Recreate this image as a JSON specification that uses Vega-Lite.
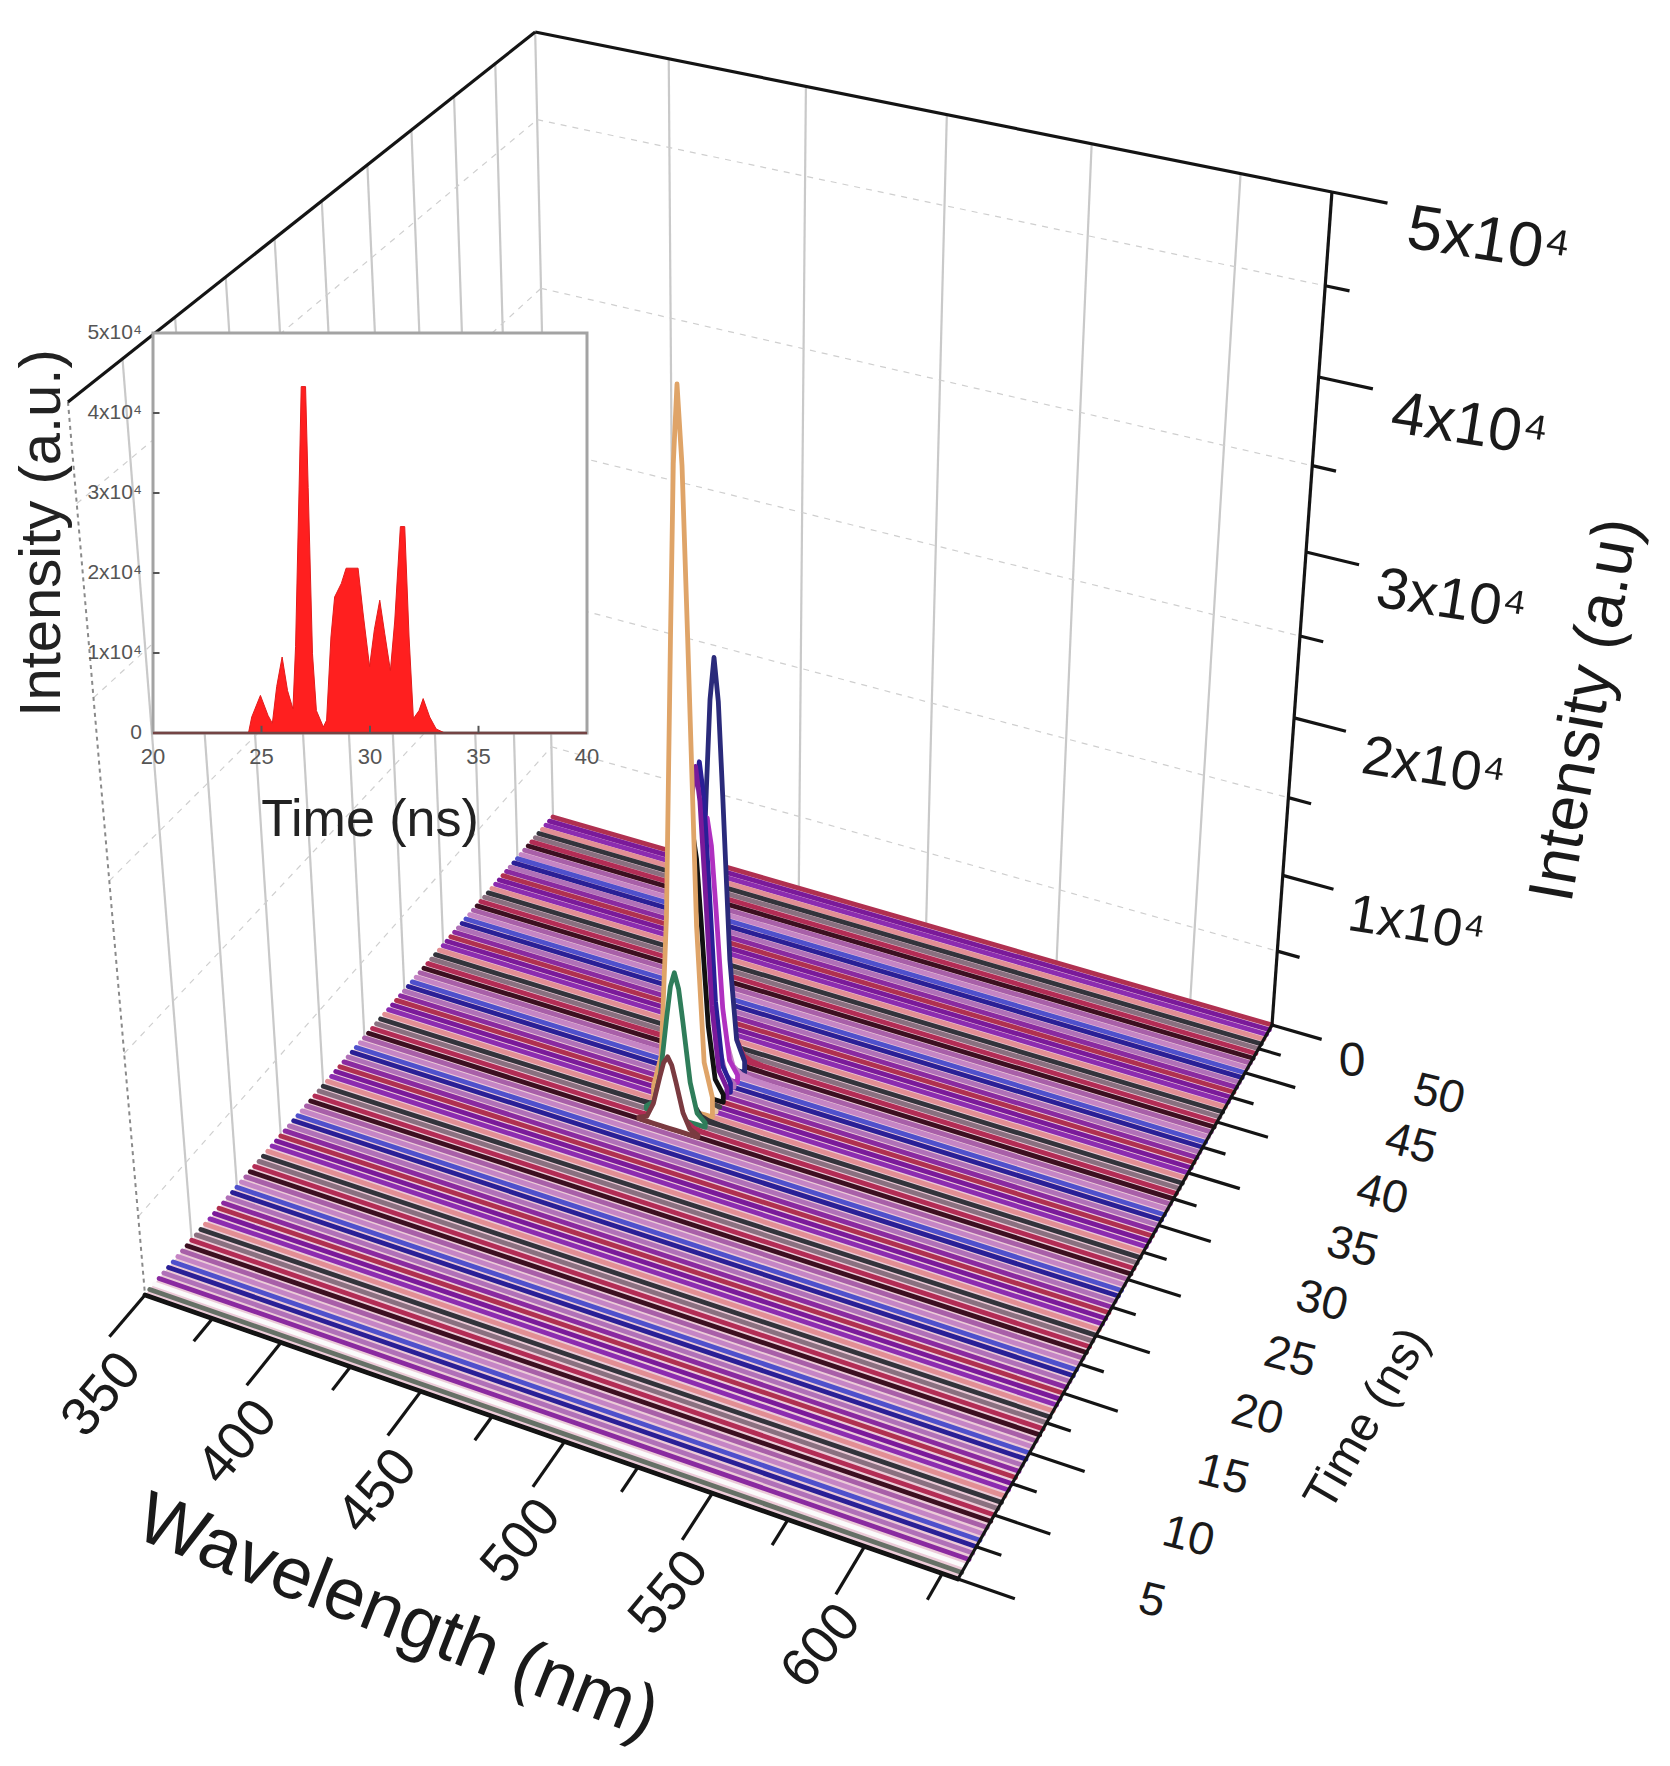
{"$schema":"https://vega.github.io/schema/vega-lite/v6.json","width":1670,"height":1766,"padding":0,"autosize":{"type":"fit","contains":"padding"},"background":"white","config":{"view":{"stroke":null}},
"datasets":{
"floor":[{"w":350,"t":5,"w2":350,"t2":5},{"w":350,"t":55,"w2":496,"t2":5},{"w":512.3,"t":55,"w2":630,"t2":5},{"w":630,"t":55,"w2":630,"t2":55}],
"frame":[
{"kind":"grid","id":"b350","w":350,"t":55,"i":0},{"kind":"grid","id":"b350","w":350,"t":55,"i":50000},
{"kind":"grid","id":"b400","w":400,"t":55,"i":0},{"kind":"grid","id":"b400","w":400,"t":55,"i":50000},
{"kind":"grid","id":"b450","w":450,"t":55,"i":0},{"kind":"grid","id":"b450","w":450,"t":55,"i":50000},
{"kind":"grid","id":"b500","w":500,"t":55,"i":0},{"kind":"grid","id":"b500","w":500,"t":55,"i":50000},
{"kind":"grid","id":"b550","w":550,"t":55,"i":0},{"kind":"grid","id":"b550","w":550,"t":55,"i":50000},
{"kind":"grid","id":"b600","w":600,"t":55,"i":0},{"kind":"grid","id":"b600","w":600,"t":55,"i":50000},
{"kind":"grid","id":"l10","w":350,"t":10,"i":0},{"kind":"grid","id":"l10","w":350,"t":10,"i":50000},
{"kind":"grid","id":"l15","w":350,"t":15,"i":0},{"kind":"grid","id":"l15","w":350,"t":15,"i":50000},
{"kind":"grid","id":"l20","w":350,"t":20,"i":0},{"kind":"grid","id":"l20","w":350,"t":20,"i":50000},
{"kind":"grid","id":"l25","w":350,"t":25,"i":0},{"kind":"grid","id":"l25","w":350,"t":25,"i":50000},
{"kind":"grid","id":"l30","w":350,"t":30,"i":0},{"kind":"grid","id":"l30","w":350,"t":30,"i":50000},
{"kind":"grid","id":"l35","w":350,"t":35,"i":0},{"kind":"grid","id":"l35","w":350,"t":35,"i":50000},
{"kind":"grid","id":"l40","w":350,"t":40,"i":0},{"kind":"grid","id":"l40","w":350,"t":40,"i":50000},
{"kind":"grid","id":"l45","w":350,"t":45,"i":0},{"kind":"grid","id":"l45","w":350,"t":45,"i":50000},
{"kind":"grid","id":"l50","w":350,"t":50,"i":0},{"kind":"grid","id":"l50","w":350,"t":50,"i":50000},
{"kind":"dash","id":"d5","w":350,"t":55,"i":5000},{"kind":"dash","id":"d5","w":630,"t":55,"i":5000},
{"kind":"dash","id":"d15","w":350,"t":55,"i":15000},{"kind":"dash","id":"d15","w":630,"t":55,"i":15000},
{"kind":"dash","id":"d25","w":350,"t":55,"i":25000},{"kind":"dash","id":"d25","w":630,"t":55,"i":25000},
{"kind":"dash","id":"d35","w":350,"t":55,"i":35000},{"kind":"dash","id":"d35","w":630,"t":55,"i":35000},
{"kind":"dash","id":"d45","w":350,"t":55,"i":45000},{"kind":"dash","id":"d45","w":630,"t":55,"i":45000},
{"kind":"dash","id":"e5","w":350,"t":5,"i":5000},{"kind":"dash","id":"e5","w":350,"t":55,"i":5000},
{"kind":"dash","id":"e15","w":350,"t":5,"i":15000},{"kind":"dash","id":"e15","w":350,"t":55,"i":15000},
{"kind":"dash","id":"e25","w":350,"t":5,"i":25000},{"kind":"dash","id":"e25","w":350,"t":55,"i":25000},
{"kind":"dash","id":"e35","w":350,"t":5,"i":35000},{"kind":"dash","id":"e35","w":350,"t":55,"i":35000},
{"kind":"dash","id":"e45","w":350,"t":5,"i":45000},{"kind":"dash","id":"e45","w":350,"t":55,"i":45000},
{"kind":"edge","id":"f","w":350,"t":5,"i":0},{"kind":"edge","id":"f","w":350,"t":5,"i":50000},
{"kind":"axis","id":"a1","w":350,"t":5,"i":50000},{"kind":"axis","id":"a1","w":350,"t":55,"i":50000},
{"kind":"axis","id":"a2","w":350,"t":55,"i":50000},{"kind":"axis","id":"a2","w":630,"t":55,"i":50000},
{"kind":"axis","id":"a3","w":630,"t":55,"i":0},{"kind":"axis","id":"a3","w":630,"t":55,"i":50000},
{"kind":"axis","id":"a4","w":350,"t":5,"i":0},{"kind":"axis","id":"a4","w":630,"t":5,"i":0},
{"kind":"axis","id":"a5","w":630,"t":5,"i":0},{"kind":"axis","id":"a5","w":630,"t":55,"i":0},
{"kind":"axis","id":"t5","w":630,"t":5,"i":0},{"kind":"axis","id":"t5","w":648,"t":5,"i":0},
{"kind":"axis","id":"t7","w":630,"t":7.5,"i":0},{"kind":"axis","id":"t7","w":638,"t":7.5,"i":0},
{"kind":"axis","id":"t10","w":630,"t":10,"i":0},{"kind":"axis","id":"t10","w":648,"t":10,"i":0},
{"kind":"axis","id":"t12","w":630,"t":12.5,"i":0},{"kind":"axis","id":"t12","w":638,"t":12.5,"i":0},
{"kind":"axis","id":"t15","w":630,"t":15,"i":0},{"kind":"axis","id":"t15","w":648,"t":15,"i":0},
{"kind":"axis","id":"t17","w":630,"t":17.5,"i":0},{"kind":"axis","id":"t17","w":638,"t":17.5,"i":0},
{"kind":"axis","id":"t20","w":630,"t":20,"i":0},{"kind":"axis","id":"t20","w":648,"t":20,"i":0},
{"kind":"axis","id":"t22","w":630,"t":22.5,"i":0},{"kind":"axis","id":"t22","w":638,"t":22.5,"i":0},
{"kind":"axis","id":"t25","w":630,"t":25,"i":0},{"kind":"axis","id":"t25","w":648,"t":25,"i":0},
{"kind":"axis","id":"t27","w":630,"t":27.5,"i":0},{"kind":"axis","id":"t27","w":638,"t":27.5,"i":0},
{"kind":"axis","id":"t30","w":630,"t":30,"i":0},{"kind":"axis","id":"t30","w":648,"t":30,"i":0},
{"kind":"axis","id":"t32","w":630,"t":32.5,"i":0},{"kind":"axis","id":"t32","w":638,"t":32.5,"i":0},
{"kind":"axis","id":"t35","w":630,"t":35,"i":0},{"kind":"axis","id":"t35","w":648,"t":35,"i":0},
{"kind":"axis","id":"t37","w":630,"t":37.5,"i":0},{"kind":"axis","id":"t37","w":638,"t":37.5,"i":0},
{"kind":"axis","id":"t40","w":630,"t":40,"i":0},{"kind":"axis","id":"t40","w":648,"t":40,"i":0},
{"kind":"axis","id":"t42","w":630,"t":42.5,"i":0},{"kind":"axis","id":"t42","w":638,"t":42.5,"i":0},
{"kind":"axis","id":"t45","w":630,"t":45,"i":0},{"kind":"axis","id":"t45","w":648,"t":45,"i":0},
{"kind":"axis","id":"t47","w":630,"t":47.5,"i":0},{"kind":"axis","id":"t47","w":638,"t":47.5,"i":0},
{"kind":"axis","id":"t50","w":630,"t":50,"i":0},{"kind":"axis","id":"t50","w":648,"t":50,"i":0},
{"kind":"axis","id":"t52","w":630,"t":52.5,"i":0},{"kind":"axis","id":"t52","w":638,"t":52.5,"i":0},
{"kind":"axis","id":"t55","w":630,"t":55,"i":0},{"kind":"axis","id":"t55","w":648,"t":55,"i":0},
{"kind":"axis","id":"w350","w":350,"t":5,"i":0},{"kind":"axis","id":"w350","w":350,"t":1.3,"i":0},
{"kind":"axis","id":"w375","w":375,"t":5,"i":0},{"kind":"axis","id":"w375","w":375,"t":3,"i":0},
{"kind":"axis","id":"w400","w":400,"t":5,"i":0},{"kind":"axis","id":"w400","w":400,"t":1.3,"i":0},
{"kind":"axis","id":"w425","w":425,"t":5,"i":0},{"kind":"axis","id":"w425","w":425,"t":3,"i":0},
{"kind":"axis","id":"w450","w":450,"t":5,"i":0},{"kind":"axis","id":"w450","w":450,"t":1.3,"i":0},
{"kind":"axis","id":"w475","w":475,"t":5,"i":0},{"kind":"axis","id":"w475","w":475,"t":3,"i":0},
{"kind":"axis","id":"w500","w":500,"t":5,"i":0},{"kind":"axis","id":"w500","w":500,"t":1.3,"i":0},
{"kind":"axis","id":"w525","w":525,"t":5,"i":0},{"kind":"axis","id":"w525","w":525,"t":3,"i":0},
{"kind":"axis","id":"w550","w":550,"t":5,"i":0},{"kind":"axis","id":"w550","w":550,"t":1.3,"i":0},
{"kind":"axis","id":"w575","w":575,"t":5,"i":0},{"kind":"axis","id":"w575","w":575,"t":3,"i":0},
{"kind":"axis","id":"w600","w":600,"t":5,"i":0},{"kind":"axis","id":"w600","w":600,"t":1.3,"i":0},
{"kind":"axis","id":"w625","w":625,"t":5,"i":0},{"kind":"axis","id":"w625","w":625,"t":3,"i":0},
{"kind":"axis","id":"z5","w":630,"t":55,"i":5000},{"kind":"axis","id":"z5","w":638,"t":55,"i":5000},
{"kind":"axis","id":"z10","w":630,"t":55,"i":10000},{"kind":"axis","id":"z10","w":648,"t":55,"i":10000},
{"kind":"axis","id":"z15","w":630,"t":55,"i":15000},{"kind":"axis","id":"z15","w":638,"t":55,"i":15000},
{"kind":"axis","id":"z20","w":630,"t":55,"i":20000},{"kind":"axis","id":"z20","w":648,"t":55,"i":20000},
{"kind":"axis","id":"z25","w":630,"t":55,"i":25000},{"kind":"axis","id":"z25","w":638,"t":55,"i":25000},
{"kind":"axis","id":"z30","w":630,"t":55,"i":30000},{"kind":"axis","id":"z30","w":648,"t":55,"i":30000},
{"kind":"axis","id":"z35","w":630,"t":55,"i":35000},{"kind":"axis","id":"z35","w":638,"t":55,"i":35000},
{"kind":"axis","id":"z40","w":630,"t":55,"i":40000},{"kind":"axis","id":"z40","w":648,"t":55,"i":40000},
{"kind":"axis","id":"z45","w":630,"t":55,"i":45000},{"kind":"axis","id":"z45","w":638,"t":55,"i":45000},
{"kind":"axis","id":"z50","w":630,"t":55,"i":50000},{"kind":"axis","id":"z50","w":648,"t":55,"i":50000}
],
"spectra":[
{"t":55,"s":"A","w":350,"i":0},{"t":55,"s":"A","w":630,"i":0},
{"t":54.5,"s":"B","w":350,"i":0},{"t":54.5,"s":"B","w":630,"i":0},
{"t":54,"s":"C","w":350,"i":0},{"t":54,"s":"C","w":630,"i":0},
{"t":53.5,"s":"D","w":350,"i":0},{"t":53.5,"s":"D","w":630,"i":0},
{"t":53,"s":"E","w":350,"i":0},{"t":53,"s":"E","w":630,"i":0},
{"t":52.5,"s":"F","w":350,"i":0},{"t":52.5,"s":"F","w":630,"i":0},
{"t":52,"s":"G","w":350,"i":0},{"t":52,"s":"G","w":630,"i":0},
{"t":51.5,"s":"H","w":350,"i":0},{"t":51.5,"s":"H","w":630,"i":0},
{"t":51,"s":"I","w":350,"i":0},{"t":51,"s":"I","w":630,"i":0},
{"t":50.5,"s":"J","w":350,"i":0},{"t":50.5,"s":"J","w":630,"i":0},
{"t":50,"s":"K","w":350,"i":0},{"t":50,"s":"K","w":630,"i":0},
{"t":49.5,"s":"L","w":350,"i":0},{"t":49.5,"s":"L","w":630,"i":0},
{"t":49,"s":"M","w":350,"i":0},{"t":49,"s":"M","w":630,"i":0},
{"t":48.5,"s":"N","w":350,"i":0},{"t":48.5,"s":"N","w":630,"i":0},
{"t":48,"s":"A","w":350,"i":0},{"t":48,"s":"A","w":630,"i":0},
{"t":47.5,"s":"B","w":350,"i":0},{"t":47.5,"s":"B","w":630,"i":0},
{"t":47,"s":"C","w":350,"i":0},{"t":47,"s":"C","w":630,"i":0},
{"t":46.5,"s":"D","w":350,"i":0},{"t":46.5,"s":"D","w":630,"i":0},
{"t":46,"s":"E","w":350,"i":0},{"t":46,"s":"E","w":630,"i":0},
{"t":45.5,"s":"F","w":350,"i":0},{"t":45.5,"s":"F","w":630,"i":0},
{"t":45,"s":"G","w":350,"i":0},{"t":45,"s":"G","w":630,"i":0},
{"t":44.5,"s":"H","w":350,"i":0},{"t":44.5,"s":"H","w":630,"i":0},
{"t":44,"s":"I","w":350,"i":0},{"t":44,"s":"I","w":630,"i":0},
{"t":43.5,"s":"J","w":350,"i":0},{"t":43.5,"s":"J","w":630,"i":0},
{"t":43,"s":"K","w":350,"i":0},{"t":43,"s":"K","w":630,"i":0},
{"t":42.5,"s":"L","w":350,"i":0},{"t":42.5,"s":"L","w":630,"i":0},
{"t":42,"s":"M","w":350,"i":0},{"t":42,"s":"M","w":630,"i":0},
{"t":41.5,"s":"N","w":350,"i":0},{"t":41.5,"s":"N","w":630,"i":0},
{"t":41,"s":"A","w":350,"i":0},{"t":41,"s":"A","w":630,"i":0},
{"t":40.5,"s":"B","w":350,"i":0},{"t":40.5,"s":"B","w":630,"i":0},
{"t":40,"s":"C","w":350,"i":0},{"t":40,"s":"C","w":630,"i":0},
{"t":39.5,"s":"D","w":350,"i":0},{"t":39.5,"s":"D","w":630,"i":0},
{"t":39,"s":"E","w":350,"i":0},{"t":39,"s":"E","w":630,"i":0},
{"t":38.5,"s":"F","w":350,"i":0},{"t":38.5,"s":"F","w":430,"i":2},{"t":38.5,"s":"F","w":450,"i":6},{"t":38.5,"s":"F","w":454,"i":10},{"t":38.5,"s":"F","w":457,"i":35},{"t":38.5,"s":"F","w":459.5,"i":140},{"t":38.5,"s":"F","w":462,"i":340},{"t":38.5,"s":"F","w":463.5,"i":450},{"t":38.5,"s":"F","w":465,"i":500},{"t":38.5,"s":"F","w":466.5,"i":450},{"t":38.5,"s":"F","w":468,"i":340},{"t":38.5,"s":"F","w":470.5,"i":140},{"t":38.5,"s":"F","w":473,"i":40},{"t":38.5,"s":"F","w":476,"i":15},{"t":38.5,"s":"F","w":480,"i":8},{"t":38.5,"s":"F","w":495,"i":2},{"t":38.5,"s":"F","w":630,"i":0},
{"t":38,"s":"G","w":350,"i":0},{"t":38,"s":"G","w":430,"i":17},{"t":38,"s":"G","w":450,"i":52},{"t":38,"s":"G","w":454,"i":86},{"t":38,"s":"G","w":457,"i":301},{"t":38,"s":"G","w":459.5,"i":1204},{"t":38,"s":"G","w":462,"i":2924},{"t":38,"s":"G","w":463.5,"i":3870},{"t":38,"s":"G","w":465,"i":4300},{"t":38,"s":"G","w":466.5,"i":3870},{"t":38,"s":"G","w":468,"i":2924},{"t":38,"s":"G","w":470.5,"i":1204},{"t":38,"s":"G","w":473,"i":344},{"t":38,"s":"G","w":476,"i":129},{"t":38,"s":"G","w":480,"i":65},{"t":38,"s":"G","w":495,"i":17},{"t":38,"s":"G","w":630,"i":0},
{"t":37.5,"s":"H","w":350,"i":0},{"t":37.5,"s":"H","w":430,"i":6},{"t":37.5,"s":"H","w":450,"i":19},{"t":37.5,"s":"H","w":454,"i":32},{"t":37.5,"s":"H","w":457,"i":112},{"t":37.5,"s":"H","w":459.5,"i":448},{"t":37.5,"s":"H","w":462,"i":1088},{"t":37.5,"s":"H","w":463.5,"i":1440},{"t":37.5,"s":"H","w":465,"i":1600},{"t":37.5,"s":"H","w":466.5,"i":1440},{"t":37.5,"s":"H","w":468,"i":1088},{"t":37.5,"s":"H","w":470.5,"i":448},{"t":37.5,"s":"H","w":473,"i":128},{"t":37.5,"s":"H","w":476,"i":48},{"t":37.5,"s":"H","w":480,"i":24},{"t":37.5,"s":"H","w":495,"i":6},{"t":37.5,"s":"H","w":630,"i":0},
{"t":37,"s":"I","w":350,"i":0},{"t":37,"s":"I","w":630,"i":0},
{"t":37,"s":"P","w":454,"i":516},{"t":37,"s":"P","w":457,"i":1806},{"t":37,"s":"P","w":459.5,"i":7224},{"t":37,"s":"P","w":462,"i":17544},{"t":37,"s":"P","w":463.5,"i":23220},{"t":37,"s":"P","w":465,"i":25800},{"t":37,"s":"P","w":466.5,"i":23220},{"t":37,"s":"P","w":468,"i":17544},{"t":37,"s":"P","w":470.5,"i":7224},{"t":37,"s":"P","w":473,"i":2064},{"t":37,"s":"P","w":476,"i":774},
{"t":36.5,"s":"J","w":350,"i":0},{"t":36.5,"s":"J","w":430,"i":31},{"t":36.5,"s":"J","w":450,"i":94},{"t":36.5,"s":"J","w":454,"i":156},{"t":36.5,"s":"J","w":457,"i":546},{"t":36.5,"s":"J","w":459.5,"i":2184},{"t":36.5,"s":"J","w":462,"i":5304},{"t":36.5,"s":"J","w":463.5,"i":7020},{"t":36.5,"s":"J","w":465,"i":7800},{"t":36.5,"s":"J","w":466.5,"i":7020},{"t":36.5,"s":"J","w":468,"i":5304},{"t":36.5,"s":"J","w":470.5,"i":2184},{"t":36.5,"s":"J","w":473,"i":624},{"t":36.5,"s":"J","w":476,"i":234},{"t":36.5,"s":"J","w":480,"i":117},{"t":36.5,"s":"J","w":495,"i":31},{"t":36.5,"s":"J","w":630,"i":0},
{"t":36,"s":"K","w":350,"i":0},{"t":36,"s":"K","w":630,"i":0},
{"t":36,"s":"V","w":454,"i":332},{"t":36,"s":"V","w":457,"i":1162},{"t":36,"s":"V","w":459.5,"i":4648},{"t":36,"s":"V","w":462,"i":11288},{"t":36,"s":"V","w":463.5,"i":14940},{"t":36,"s":"V","w":465,"i":16600},{"t":36,"s":"V","w":466.5,"i":14940},{"t":36,"s":"V","w":468,"i":11288},{"t":36,"s":"V","w":470.5,"i":4648},{"t":36,"s":"V","w":473,"i":1328},{"t":36,"s":"V","w":476,"i":498},
{"t":35.5,"s":"L","w":350,"i":0},{"t":35.5,"s":"L","w":630,"i":0},
{"t":35.5,"s":"M","w":454,"i":166},{"t":35.5,"s":"M","w":457,"i":581},{"t":35.5,"s":"M","w":459.5,"i":2324},{"t":35.5,"s":"M","w":462,"i":5644},{"t":35.5,"s":"M","w":463.5,"i":7470},{"t":35.5,"s":"M","w":465,"i":8300},{"t":35.5,"s":"M","w":466.5,"i":7470},{"t":35.5,"s":"M","w":468,"i":5644},{"t":35.5,"s":"M","w":470.5,"i":2324},{"t":35.5,"s":"M","w":473,"i":664},{"t":35.5,"s":"M","w":476,"i":249},
{"t":35,"s":"M","w":350,"i":0},{"t":35,"s":"M","w":630,"i":0},
{"t":35,"s":"L","w":454,"i":412},{"t":35,"s":"L","w":457,"i":1442},{"t":35,"s":"L","w":459.5,"i":5768},{"t":35,"s":"L","w":462,"i":14008},{"t":35,"s":"L","w":463.5,"i":18540},{"t":35,"s":"L","w":465,"i":20600},{"t":35,"s":"L","w":466.5,"i":18540},{"t":35,"s":"L","w":468,"i":14008},{"t":35,"s":"L","w":470.5,"i":5768},{"t":35,"s":"L","w":473,"i":1648},{"t":35,"s":"L","w":476,"i":618},
{"t":34.5,"s":"N","w":350,"i":0},{"t":34.5,"s":"N","w":630,"i":0},
{"t":34.5,"s":"B","w":454,"i":412},{"t":34.5,"s":"B","w":457,"i":1442},{"t":34.5,"s":"B","w":459.5,"i":5768},{"t":34.5,"s":"B","w":462,"i":14008},{"t":34.5,"s":"B","w":463.5,"i":18540},{"t":34.5,"s":"B","w":465,"i":20600},{"t":34.5,"s":"B","w":466.5,"i":18540},{"t":34.5,"s":"B","w":468,"i":14008},{"t":34.5,"s":"B","w":470.5,"i":5768},{"t":34.5,"s":"B","w":473,"i":1648},{"t":34.5,"s":"B","w":476,"i":618},
{"t":34,"s":"A","w":350,"i":0},{"t":34,"s":"A","w":630,"i":0},
{"t":34,"s":"X","w":454,"i":340},{"t":34,"s":"X","w":457,"i":1190},{"t":34,"s":"X","w":459.5,"i":4760},{"t":34,"s":"X","w":462,"i":11560},{"t":34,"s":"X","w":463.5,"i":15300},{"t":34,"s":"X","w":465,"i":17000},{"t":34,"s":"X","w":466.5,"i":15300},{"t":34,"s":"X","w":468,"i":11560},{"t":34,"s":"X","w":470.5,"i":4760},{"t":34,"s":"X","w":473,"i":1360},{"t":34,"s":"X","w":476,"i":510},
{"t":33.5,"s":"B","w":350,"i":0},{"t":33.5,"s":"B","w":630,"i":0},
{"t":33.5,"s":"U","w":454,"i":20},{"t":33.5,"s":"U","w":457,"i":70},{"t":33.5,"s":"U","w":459.5,"i":280},{"t":33.5,"s":"U","w":462,"i":680},{"t":33.5,"s":"U","w":463.5,"i":900},{"t":33.5,"s":"U","w":465,"i":1000},{"t":33.5,"s":"U","w":466.5,"i":900},{"t":33.5,"s":"U","w":468,"i":680},{"t":33.5,"s":"U","w":470.5,"i":280},{"t":33.5,"s":"U","w":473,"i":80},{"t":33.5,"s":"U","w":476,"i":30},
{"t":33,"s":"C","w":350,"i":0},{"t":33,"s":"C","w":630,"i":0},
{"t":33,"s":"T","w":454,"i":56},{"t":33,"s":"T","w":457,"i":196},{"t":33,"s":"T","w":459.5,"i":784},{"t":33,"s":"T","w":462,"i":1904},{"t":33,"s":"T","w":463.5,"i":2520},{"t":33,"s":"T","w":465,"i":2800},{"t":33,"s":"T","w":466.5,"i":2520},{"t":33,"s":"T","w":468,"i":1904},{"t":33,"s":"T","w":470.5,"i":784},{"t":33,"s":"T","w":473,"i":224},{"t":33,"s":"T","w":476,"i":84},
{"t":32.5,"s":"D","w":350,"i":0},{"t":32.5,"s":"D","w":630,"i":0},
{"t":32.5,"s":"O","w":454,"i":866},{"t":32.5,"s":"O","w":457,"i":3031},{"t":32.5,"s":"O","w":459.5,"i":12124},{"t":32.5,"s":"O","w":462,"i":29444},{"t":32.5,"s":"O","w":463.5,"i":38970},{"t":32.5,"s":"O","w":465,"i":43300},{"t":32.5,"s":"O","w":466.5,"i":38970},{"t":32.5,"s":"O","w":468,"i":29444},{"t":32.5,"s":"O","w":470.5,"i":12124},{"t":32.5,"s":"O","w":473,"i":3464},{"t":32.5,"s":"O","w":476,"i":1299},
{"t":32,"s":"E","w":350,"i":0},{"t":32,"s":"E","w":430,"i":12},{"t":32,"s":"E","w":450,"i":36},{"t":32,"s":"E","w":454,"i":60},{"t":32,"s":"E","w":457,"i":210},{"t":32,"s":"E","w":459.5,"i":840},{"t":32,"s":"E","w":462,"i":2040},{"t":32,"s":"E","w":463.5,"i":2700},{"t":32,"s":"E","w":465,"i":3000},{"t":32,"s":"E","w":466.5,"i":2700},{"t":32,"s":"E","w":468,"i":2040},{"t":32,"s":"E","w":470.5,"i":840},{"t":32,"s":"E","w":473,"i":240},{"t":32,"s":"E","w":476,"i":90},{"t":32,"s":"E","w":480,"i":45},{"t":32,"s":"E","w":495,"i":12},{"t":32,"s":"E","w":630,"i":0},
{"t":31.5,"s":"F","w":350,"i":0},{"t":31.5,"s":"F","w":630,"i":0},
{"t":31.5,"s":"R","w":454,"i":190},{"t":31.5,"s":"R","w":457,"i":665},{"t":31.5,"s":"R","w":459.5,"i":2660},{"t":31.5,"s":"R","w":462,"i":6460},{"t":31.5,"s":"R","w":463.5,"i":8550},{"t":31.5,"s":"R","w":465,"i":9500},{"t":31.5,"s":"R","w":466.5,"i":8550},{"t":31.5,"s":"R","w":468,"i":6460},{"t":31.5,"s":"R","w":470.5,"i":2660},{"t":31.5,"s":"R","w":473,"i":760},{"t":31.5,"s":"R","w":476,"i":285},
{"t":31,"s":"G","w":350,"i":0},{"t":31,"s":"G","w":430,"i":6},{"t":31,"s":"G","w":450,"i":17},{"t":31,"s":"G","w":454,"i":28},{"t":31,"s":"G","w":457,"i":98},{"t":31,"s":"G","w":459.5,"i":392},{"t":31,"s":"G","w":462,"i":952},{"t":31,"s":"G","w":463.5,"i":1260},{"t":31,"s":"G","w":465,"i":1400},{"t":31,"s":"G","w":466.5,"i":1260},{"t":31,"s":"G","w":468,"i":952},{"t":31,"s":"G","w":470.5,"i":392},{"t":31,"s":"G","w":473,"i":112},{"t":31,"s":"G","w":476,"i":42},{"t":31,"s":"G","w":480,"i":21},{"t":31,"s":"G","w":495,"i":6},{"t":31,"s":"G","w":630,"i":0},
{"t":30.5,"s":"H","w":350,"i":0},{"t":30.5,"s":"H","w":630,"i":0},
{"t":30.5,"s":"S","w":454,"i":94},{"t":30.5,"s":"S","w":457,"i":329},{"t":30.5,"s":"S","w":459.5,"i":1316},{"t":30.5,"s":"S","w":462,"i":3196},{"t":30.5,"s":"S","w":463.5,"i":4230},{"t":30.5,"s":"S","w":465,"i":4700},{"t":30.5,"s":"S","w":466.5,"i":4230},{"t":30.5,"s":"S","w":468,"i":3196},{"t":30.5,"s":"S","w":470.5,"i":1316},{"t":30.5,"s":"S","w":473,"i":376},{"t":30.5,"s":"S","w":476,"i":141},
{"t":30,"s":"I","w":350,"i":0},{"t":30,"s":"I","w":630,"i":0},
{"t":29.5,"s":"J","w":350,"i":0},{"t":29.5,"s":"J","w":630,"i":0},
{"t":29,"s":"K","w":350,"i":0},{"t":29,"s":"K","w":630,"i":0},
{"t":28.5,"s":"L","w":350,"i":0},{"t":28.5,"s":"L","w":630,"i":0},
{"t":28,"s":"M","w":350,"i":0},{"t":28,"s":"M","w":630,"i":0},
{"t":27.5,"s":"N","w":350,"i":0},{"t":27.5,"s":"N","w":630,"i":0},
{"t":27,"s":"A","w":350,"i":0},{"t":27,"s":"A","w":630,"i":0},
{"t":26.5,"s":"B","w":350,"i":0},{"t":26.5,"s":"B","w":630,"i":0},
{"t":26,"s":"C","w":350,"i":0},{"t":26,"s":"C","w":630,"i":0},
{"t":25.5,"s":"D","w":350,"i":0},{"t":25.5,"s":"D","w":630,"i":0},
{"t":25,"s":"E","w":350,"i":0},{"t":25,"s":"E","w":630,"i":0},
{"t":24.5,"s":"F","w":350,"i":0},{"t":24.5,"s":"F","w":630,"i":0},
{"t":24,"s":"G","w":350,"i":0},{"t":24,"s":"G","w":630,"i":0},
{"t":23.5,"s":"H","w":350,"i":0},{"t":23.5,"s":"H","w":630,"i":0},
{"t":23,"s":"I","w":350,"i":0},{"t":23,"s":"I","w":630,"i":0},
{"t":22.5,"s":"J","w":350,"i":0},{"t":22.5,"s":"J","w":630,"i":0},
{"t":22,"s":"K","w":350,"i":0},{"t":22,"s":"K","w":630,"i":0},
{"t":21.5,"s":"L","w":350,"i":0},{"t":21.5,"s":"L","w":630,"i":0},
{"t":21,"s":"M","w":350,"i":0},{"t":21,"s":"M","w":630,"i":0},
{"t":20.5,"s":"N","w":350,"i":0},{"t":20.5,"s":"N","w":630,"i":0},
{"t":20,"s":"A","w":350,"i":0},{"t":20,"s":"A","w":630,"i":0},
{"t":19.5,"s":"B","w":350,"i":0},{"t":19.5,"s":"B","w":630,"i":0},
{"t":19,"s":"C","w":350,"i":0},{"t":19,"s":"C","w":630,"i":0},
{"t":18.5,"s":"D","w":350,"i":0},{"t":18.5,"s":"D","w":630,"i":0},
{"t":18,"s":"E","w":350,"i":0},{"t":18,"s":"E","w":630,"i":0},
{"t":17.5,"s":"F","w":350,"i":0},{"t":17.5,"s":"F","w":630,"i":0},
{"t":17,"s":"G","w":350,"i":0},{"t":17,"s":"G","w":630,"i":0},
{"t":16.5,"s":"H","w":350,"i":0},{"t":16.5,"s":"H","w":630,"i":0},
{"t":16,"s":"I","w":350,"i":0},{"t":16,"s":"I","w":630,"i":0},
{"t":15.5,"s":"J","w":350,"i":0},{"t":15.5,"s":"J","w":630,"i":0},
{"t":15,"s":"K","w":350,"i":0},{"t":15,"s":"K","w":630,"i":0},
{"t":14.5,"s":"L","w":350,"i":0},{"t":14.5,"s":"L","w":630,"i":0},
{"t":14,"s":"M","w":350,"i":0},{"t":14,"s":"M","w":630,"i":0},
{"t":13.5,"s":"N","w":350,"i":0},{"t":13.5,"s":"N","w":630,"i":0},
{"t":13,"s":"A","w":350,"i":0},{"t":13,"s":"A","w":630,"i":0},
{"t":12.5,"s":"B","w":350,"i":0},{"t":12.5,"s":"B","w":630,"i":0},
{"t":12,"s":"C","w":350,"i":0},{"t":12,"s":"C","w":630,"i":0},
{"t":11.5,"s":"D","w":350,"i":0},{"t":11.5,"s":"D","w":630,"i":0},
{"t":11,"s":"E","w":350,"i":0},{"t":11,"s":"E","w":630,"i":0},
{"t":10.5,"s":"F","w":350,"i":0},{"t":10.5,"s":"F","w":630,"i":0},
{"t":10,"s":"G","w":350,"i":0},{"t":10,"s":"G","w":630,"i":0},
{"t":9.5,"s":"H","w":350,"i":0},{"t":9.5,"s":"H","w":630,"i":0},
{"t":9,"s":"I","w":350,"i":0},{"t":9,"s":"I","w":630,"i":0},
{"t":8.5,"s":"J","w":350,"i":0},{"t":8.5,"s":"J","w":630,"i":0},
{"t":8,"s":"K","w":350,"i":0},{"t":8,"s":"K","w":630,"i":0},
{"t":7.5,"s":"L","w":350,"i":0},{"t":7.5,"s":"L","w":630,"i":0},
{"t":7,"s":"M","w":350,"i":0},{"t":7,"s":"M","w":630,"i":0},
{"t":6.5,"s":"N","w":350,"i":0},{"t":6.5,"s":"N","w":630,"i":0},
{"t":6,"s":"Z","w":350,"i":0},{"t":6,"s":"Z","w":630,"i":0},
{"t":5.5,"s":"Y","w":350,"i":0},{"t":5.5,"s":"Y","w":630,"i":0},
{"t":5,"s":"X","w":350,"i":0},{"t":5,"s":"X","w":630,"i":0}
],
"labels":[
{"kind":"z","w":630,"t":55,"i":50000,"text":"5x10⁴"},{"kind":"z","w":630,"t":55,"i":40000,"text":"4x10⁴"},{"kind":"z","w":630,"t":55,"i":30000,"text":"3x10⁴"},{"kind":"z","w":630,"t":55,"i":20000,"text":"2x10⁴"},{"kind":"z","w":630,"t":55,"i":10000,"text":"1x10⁴"},
{"kind":"z0","w":630,"t":55,"i":0,"text":"0"},
{"kind":"t","w":630,"t":5,"i":0,"text":"5"},{"kind":"t","w":630,"t":10,"i":0,"text":"10"},{"kind":"t","w":630,"t":15,"i":0,"text":"15"},{"kind":"t","w":630,"t":20,"i":0,"text":"20"},{"kind":"t","w":630,"t":25,"i":0,"text":"25"},{"kind":"t","w":630,"t":30,"i":0,"text":"30"},{"kind":"t","w":630,"t":35,"i":0,"text":"35"},{"kind":"t","w":630,"t":40,"i":0,"text":"40"},{"kind":"t","w":630,"t":45,"i":0,"text":"45"},{"kind":"t","w":630,"t":50,"i":0,"text":"50"},
{"kind":"w","w":350,"t":5,"i":0,"text":"350"},{"kind":"w","w":400,"t":5,"i":0,"text":"400"},{"kind":"w","w":450,"t":5,"i":0,"text":"450"},{"kind":"w","w":500,"t":5,"i":0,"text":"500"},{"kind":"w","w":550,"t":5,"i":0,"text":"550"},{"kind":"w","w":600,"t":5,"i":0,"text":"600"},
{"kind":"wt","w":490,"t":5,"i":0,"text":"Wavelength (nm)"},
{"kind":"tt","w":630,"t":30,"i":0,"text":"Time (ns)"},
{"kind":"zt","w":630,"t":55,"i":25000,"text":"Intensity (a.u)"}
],
"inset":[
{"kind":"box","t":20,"i":50000,"t2":40,"i2":0},
{"kind":"curve","t":20,"i":0},{"kind":"curve","t":24.4,"i":0},{"kind":"curve","t":24.55,"i":2000},{"kind":"curve","t":24.95,"i":4700},{"kind":"curve","t":25.3,"i":2200},{"kind":"curve","t":25.5,"i":1200},{"kind":"curve","t":25.7,"i":5800},{"kind":"curve","t":25.95,"i":9500},{"kind":"curve","t":26.2,"i":5300},{"kind":"curve","t":26.45,"i":3000},{"kind":"curve","t":26.57,"i":10800},{"kind":"curve","t":26.76,"i":34000},{"kind":"curve","t":26.83,"i":43300},{"kind":"curve","t":27.03,"i":43300},{"kind":"curve","t":27.15,"i":30700},{"kind":"curve","t":27.35,"i":9900},{"kind":"curve","t":27.53,"i":2800},{"kind":"curve","t":27.85,"i":750},{"kind":"curve","t":28,"i":1600},{"kind":"curve","t":28.2,"i":12000},{"kind":"curve","t":28.37,"i":17000},{"kind":"curve","t":28.68,"i":18700},{"kind":"curve","t":28.9,"i":20600},{"kind":"curve","t":29.45,"i":20600},{"kind":"curve","t":29.68,"i":15000},{"kind":"curve","t":29.98,"i":8300},{"kind":"curve","t":30.2,"i":12900},{"kind":"curve","t":30.45,"i":16600},{"kind":"curve","t":30.68,"i":12400},{"kind":"curve","t":30.94,"i":7800},{"kind":"curve","t":31.14,"i":14000},{"kind":"curve","t":31.4,"i":25800},{"kind":"curve","t":31.6,"i":25800},{"kind":"curve","t":31.8,"i":12000},{"kind":"curve","t":32,"i":1800},{"kind":"curve","t":32.26,"i":2800},{"kind":"curve","t":32.45,"i":4300},{"kind":"curve","t":32.75,"i":2000},{"kind":"curve","t":33.05,"i":500},{"kind":"curve","t":33.45,"i":0},{"kind":"curve","t":40,"i":0},
{"kind":"base","id":"b","t":20,"i":0},{"kind":"base","id":"b","t":40,"i":0},
{"kind":"tick","id":"y1","t":20,"i":10000},{"kind":"tick","id":"y1","t":20.3,"i":10000},
{"kind":"tick","id":"y2","t":20,"i":20000},{"kind":"tick","id":"y2","t":20.3,"i":20000},
{"kind":"tick","id":"y3","t":20,"i":30000},{"kind":"tick","id":"y3","t":20.3,"i":30000},
{"kind":"tick","id":"y4","t":20,"i":40000},{"kind":"tick","id":"y4","t":20.3,"i":40000},
{"kind":"tick","id":"x25","t":25,"i":0},{"kind":"tick","id":"x25","t":25,"i":900},
{"kind":"tick","id":"x30","t":30,"i":0},{"kind":"tick","id":"x30","t":30,"i":900},
{"kind":"tick","id":"x35","t":35,"i":0},{"kind":"tick","id":"x35","t":35,"i":900},
{"kind":"ylab","t":20,"i":50000,"text":"5x10⁴"},{"kind":"ylab","t":20,"i":40000,"text":"4x10⁴"},{"kind":"ylab","t":20,"i":30000,"text":"3x10⁴"},{"kind":"ylab","t":20,"i":20000,"text":"2x10⁴"},{"kind":"ylab","t":20,"i":10000,"text":"1x10⁴"},{"kind":"ylab","t":20,"i":0,"text":"0"},
{"kind":"xlab","t":20,"i":0,"text":"20"},{"kind":"xlab","t":25,"i":0,"text":"25"},{"kind":"xlab","t":30,"i":0,"text":"30"},{"kind":"xlab","t":35,"i":0,"text":"35"},{"kind":"xlab","t":40,"i":0,"text":"40"},
{"kind":"xtitle","t":30,"i":0,"text":"Time (ns)"},
{"kind":"ytitle","t":20,"i":25000,"text":"Intensity (a.u.)"}
]
},
"encoding":{
"x":{"field":"px","type":"quantitative","scale":{"domain":[0,1670],"nice":false,"zero":false},"axis":null},
"y":{"field":"py","type":"quantitative","scale":{"domain":[1766,0],"nice":false,"zero":false},"axis":null}
},
"layer":[
{"data":{"name":"frame"},
"transform":[
{"calculate":"(datum.w-350)/280","as":"u"},{"calculate":"(datum.t-5)/50","as":"v"},{"calculate":"datum.i/50000","as":"z"},
{"calculate":"1-0.07569*datum.u+0.16379*datum.v-0.135*datum.z","as":"d"},
{"calculate":"(740.49*datum.u+498.58*datum.v+145+(-86.2-6.8*datum.v-21.6*datum.u)*datum.z)/datum.d","as":"px"},
{"calculate":"(164.49*datum.u-344.18*datum.v+1295+(-947.3+29.4*datum.v-14.4*datum.u)*datum.z)/datum.d","as":"py"}],
"layer":[
{"transform":[{"filter":"datum.kind=='grid'"}],"mark":{"type":"line","stroke":"#c9c9c9","strokeWidth":2.2},"encoding":{"detail":{"field":"id"}}},
{"transform":[{"filter":"datum.kind=='dash'"}],"mark":{"type":"line","stroke":"#cfcfcf","strokeWidth":1.2,"strokeDash":[6,6]},"encoding":{"detail":{"field":"id"}}},
{"transform":[{"filter":"datum.kind=='edge'"}],"mark":{"type":"line","stroke":"#8a8a8a","strokeWidth":2,"strokeDash":[4,4]},"encoding":{"detail":{"field":"id"}}}
]},
{"data":{"name":"floor"},
"transform":[
{"calculate":"(datum.w-350)/280","as":"u"},{"calculate":"(datum.t-5)/50","as":"v"},
{"calculate":"(datum.w2-350)/280","as":"u2"},{"calculate":"(datum.t2-5)/50","as":"v2"},
{"calculate":"(740.49*datum.u+498.58*datum.v+145)/(1-0.07569*datum.u+0.16379*datum.v)","as":"px"},
{"calculate":"(164.49*datum.u-344.18*datum.v+1295)/(1-0.07569*datum.u+0.16379*datum.v)","as":"py"},
{"calculate":"(164.49*datum.u2-344.18*datum.v2+1295)/(1-0.07569*datum.u2+0.16379*datum.v2)","as":"py0"}],
"mark":{"type":"area","fill":"#eccbd8"},
"encoding":{"y2":{"field":"py0"}}},
{"data":{"name":"spectra"},
"transform":[
{"calculate":"(datum.w-350)/280","as":"u"},{"calculate":"(datum.t-5)/50","as":"v"},{"calculate":"datum.i/50000","as":"z"},
{"calculate":"1-0.07569*datum.u+0.16379*datum.v-0.135*datum.z","as":"d"},
{"calculate":"(740.49*datum.u+498.58*datum.v+145+(-86.2-6.8*datum.v-21.6*datum.u)*datum.z)/datum.d","as":"px"},
{"calculate":"(164.49*datum.u-344.18*datum.v+1295+(-947.3+29.4*datum.v-14.4*datum.u)*datum.z)/datum.d","as":"py"},
{"calculate":"(164.49*datum.u-344.18*datum.v+1295)/(1-0.07569*datum.u+0.16379*datum.v)","as":"py0"}],
"mark":{"type":"area","fill":"white","fillOpacity":1,"strokeWidth":4.8,"strokeJoin":"round"},
"encoding":{
"y2":{"field":"py0"},
"detail":{"field":"t"},
"stroke":{"field":"s","type":"nominal","legend":null,"scale":{
"domain":["A","B","C","D","E","F","G","H","I","J","K","L","M","N","O","P","R","S","T","U","V","X","Y","Z"],
"range":["#b03050","#7a1a9a","#8c2cb0","#e28e94","#33333b","#8a7080","#b32c55","#3c0f20","#a85fa8","#c585c5","#4f50cc","#2a1f96","#b070b8","#8a2aa0","#dfa468","#2a2a7a","#2f7d5a","#7a3a40","#e8c8a8","#444444","#b030c0","#111111","#667066","#fbfbfb"]}}
}},
{"data":{"name":"frame"},
"transform":[
{"filter":"datum.kind=='axis'"},
{"calculate":"(datum.w-350)/280","as":"u"},{"calculate":"(datum.t-5)/50","as":"v"},{"calculate":"datum.i/50000","as":"z"},
{"calculate":"1-0.07569*datum.u+0.16379*datum.v-0.135*datum.z","as":"d"},
{"calculate":"(740.49*datum.u+498.58*datum.v+145+(-86.2-6.8*datum.v-21.6*datum.u)*datum.z)/datum.d","as":"px"},
{"calculate":"(164.49*datum.u-344.18*datum.v+1295+(-947.3+29.4*datum.v-14.4*datum.u)*datum.z)/datum.d","as":"py"}],
"mark":{"type":"line","stroke":"#141414","strokeWidth":3.2},
"encoding":{"detail":{"field":"id"}}},
{"data":{"name":"labels"},
"transform":[
{"calculate":"(datum.w-350)/280","as":"u"},{"calculate":"(datum.t-5)/50","as":"v"},{"calculate":"datum.i/50000","as":"z"},
{"calculate":"1-0.07569*datum.u+0.16379*datum.v-0.135*datum.z","as":"d"},
{"calculate":"(740.49*datum.u+498.58*datum.v+145+(-86.2-6.8*datum.v-21.6*datum.u)*datum.z)/datum.d","as":"px"},
{"calculate":"(164.49*datum.u-344.18*datum.v+1295+(-947.3+29.4*datum.v-14.4*datum.u)*datum.z)/datum.d","as":"py"}],
"layer":[
{"transform":[{"filter":"datum.kind=='z'"},{"calculate":"datum.px+128+datum.i*0.00057","as":"px"},{"calculate":"datum.py+49","as":"py"}],
"mark":{"type":"text","font":"Liberation Sans","fill":"#1a1a1a","align":"center","baseline":"middle","angle":9},
"encoding":{"text":{"field":"text"},"size":{"field":"i","type":"quantitative","legend":null,"scale":{"domain":[10000,50000],"range":[53,63]}}}},
{"transform":[{"filter":"datum.kind=='z0'"},{"calculate":"datum.px+80","as":"px"},{"calculate":"datum.py+37","as":"py"}],
"mark":{"type":"text","font":"Liberation Sans","fill":"#1a1a1a","align":"center","baseline":"middle","fontSize":48},
"encoding":{"text":{"field":"text"}}},
{"transform":[{"filter":"datum.kind=='t'"},{"calculate":"datum.px+194","as":"px"},{"calculate":"datum.py+22","as":"py"}],
"mark":{"type":"text","font":"Liberation Sans","fill":"#1a1a1a","align":"center","baseline":"middle","fontSize":46,"angle":14},
"encoding":{"text":{"field":"text"}}},
{"transform":[{"filter":"datum.kind=='w'"},{"calculate":"datum.px-43","as":"px"},{"calculate":"datum.py+100","as":"py"}],
"mark":{"type":"text","font":"Liberation Sans","fill":"#1a1a1a","align":"center","baseline":"middle","fontSize":54,"angle":-50},
"encoding":{"text":{"field":"text"}}},
{"transform":[{"filter":"datum.kind=='wt'"},{"calculate":"datum.px-138","as":"px"},{"calculate":"datum.py+186","as":"py"}],
"mark":{"type":"text","font":"Liberation Sans","fill":"#1a1a1a","align":"center","baseline":"middle","fontSize":73,"angle":21.5},
"encoding":{"text":{"field":"text"}}},
{"transform":[{"filter":"datum.kind=='tt'"},{"calculate":"datum.px+240","as":"px"},{"calculate":"datum.py+140","as":"py"}],
"mark":{"type":"text","font":"Liberation Sans","fill":"#1a1a1a","align":"center","baseline":"middle","fontSize":48,"angle":-60},
"encoding":{"text":{"field":"text"}}},
{"transform":[{"filter":"datum.kind=='zt'"},{"calculate":"datum.px+286","as":"px"},{"calculate":"datum.py+74","as":"py"}],
"mark":{"type":"text","font":"Liberation Sans","fill":"#1a1a1a","align":"center","baseline":"middle","fontSize":64,"angle":-80},
"encoding":{"text":{"field":"text"}}}
]},
{"data":{"name":"inset"},
"transform":[
{"calculate":"153+(datum.t-20)*21.7","as":"px"},{"calculate":"733-datum.i*0.008","as":"py"},
{"calculate":"153+(datum.t2-20)*21.7","as":"px2"},{"calculate":"733-datum.i2*0.008","as":"py2"},{"calculate":"733","as":"py0"}],
"layer":[
{"transform":[{"filter":"datum.kind=='box'"}],"mark":{"type":"rect","fill":"white","stroke":"#a3a3a3","strokeWidth":3},"encoding":{"x2":{"field":"px2"},"y2":{"field":"py2"}}},
{"transform":[{"filter":"datum.kind=='curve'"}],"mark":{"type":"area","fill":"#ff1f1f","stroke":"#e31b1b","strokeWidth":1},"encoding":{"y2":{"field":"py0"}}},
{"transform":[{"filter":"datum.kind=='base'"}],"mark":{"type":"line","stroke":"#744444","strokeWidth":2.5},"encoding":{"detail":{"field":"id"}}},
{"transform":[{"filter":"datum.kind=='tick'"}],"mark":{"type":"line","stroke":"#555555","strokeWidth":2},"encoding":{"detail":{"field":"id"}}},
{"transform":[{"filter":"datum.kind=='ylab'"}],"mark":{"type":"text","font":"Liberation Sans","fill":"#555555","align":"right","baseline":"middle","fontSize":21,"dx":-11},"encoding":{"text":{"field":"text"}}},
{"transform":[{"filter":"datum.kind=='xlab'"}],"mark":{"type":"text","font":"Liberation Sans","fill":"#555555","align":"center","baseline":"middle","fontSize":22,"dy":24},"encoding":{"text":{"field":"text"}}},
{"transform":[{"filter":"datum.kind=='xtitle'"}],"mark":{"type":"text","font":"Liberation Sans","fill":"#222222","align":"center","baseline":"middle","fontSize":52,"dy":87},"encoding":{"text":{"field":"text"}}},
{"transform":[{"filter":"datum.kind=='ytitle'"},{"calculate":"datum.px-110","as":"px"}],"mark":{"type":"text","font":"Liberation Sans","fill":"#222222","align":"center","baseline":"middle","fontSize":58,"angle":-90},"encoding":{"text":{"field":"text"}}}
]}
]}
